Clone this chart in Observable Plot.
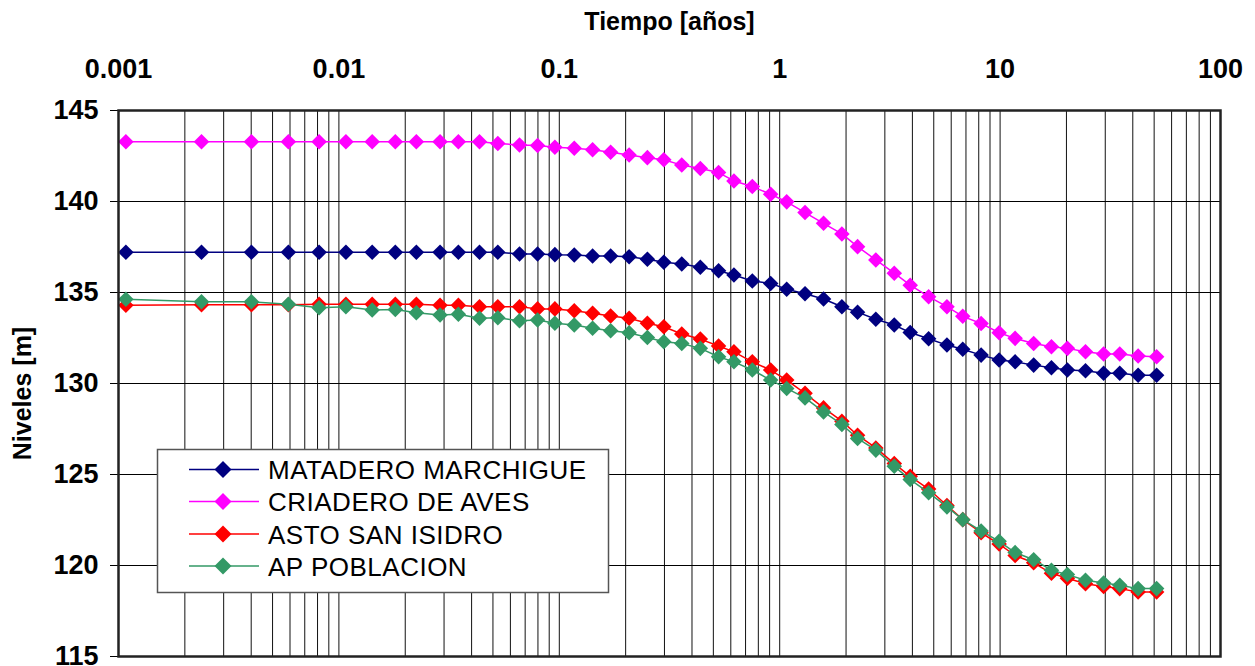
<!DOCTYPE html>
<html>
<head>
<meta charset="utf-8">
<script src="https://cdn.jsdelivr.net/npm/d3@7"></script>
<script src="https://cdn.jsdelivr.net/npm/@observablehq/plot@0.6"></script>
<style>
  html, body { margin: 0; padding: 0; background: #fff; }
  #chart { width: 1255px; height: 666px; }
</style>
</head>
<body>
<div id="chart"></div>
<script>
// Time (years)
const time = [0.00108, 0.00238, 0.00401, 0.0059, 0.00813, 0.01076, 0.01416, 0.01803, 0.02246, 0.02877,
  0.03484, 0.04345, 0.0526, 0.066, 0.0797, 0.0955, 0.1169, 0.1416, 0.171, 0.2074,
  0.251, 0.298, 0.3595, 0.4363, 0.528, 0.62, 0.751, 0.91, 1.076, 1.303,
  1.581, 1.915, 2.256, 2.73, 3.31, 3.91, 4.74, 5.74, 6.77, 8.2,
  9.9, 11.7, 14.2, 17.1, 20.2, 24.4, 29.5, 34.9, 42.3, 51.3];

const matadero = [137.21, 137.21, 137.21, 137.21, 137.21, 137.21, 137.21, 137.21, 137.21, 137.21,
  137.21, 137.21, 137.21, 137.12, 137.12, 137.08, 137.06, 137.0, 137.0, 136.97,
  136.83, 136.66, 136.57, 136.39, 136.2, 135.96, 135.63, 135.5, 135.18, 134.93,
  134.64, 134.22, 133.92, 133.53, 133.21, 132.8, 132.46, 132.11, 131.88, 131.56,
  131.29, 131.19, 131.01, 130.86, 130.74, 130.7, 130.56, 130.56, 130.45, 130.45];

const criadero = [143.28, 143.28, 143.28, 143.28, 143.28, 143.28, 143.28, 143.28, 143.28, 143.28,
  143.28, 143.28, 143.19, 143.1, 143.08, 142.98, 142.93, 142.84, 142.71, 142.56,
  142.41, 142.29, 142.0, 141.81, 141.59, 141.13, 140.82, 140.4, 139.98, 139.39,
  138.8, 138.22, 137.52, 136.79, 136.06, 135.4, 134.77, 134.22, 133.69, 133.3,
  132.79, 132.48, 132.2, 132.02, 131.93, 131.74, 131.62, 131.62, 131.51, 131.47];

const asto = [134.3, 134.33, 134.33, 134.33, 134.36, 134.36, 134.36, 134.36, 134.36, 134.3,
  134.3, 134.22, 134.22, 134.22, 134.1, 134.1, 134.0, 133.86, 133.71, 133.58,
  133.31, 133.12, 132.72, 132.44, 132.06, 131.74, 131.19, 130.74, 130.19, 129.46,
  128.66, 127.93, 127.16, 126.46, 125.6, 124.9, 124.2, 123.3, 122.52, 121.8,
  121.18, 120.55, 120.15, 119.57, 119.3, 119.0, 118.85, 118.73, 118.55, 118.55];

const apPoblacion = [134.63, 134.49, 134.49, 134.35, 134.16, 134.22, 134.04, 134.07, 133.89, 133.76,
  133.8, 133.58, 133.61, 133.45, 133.49, 133.31, 133.21, 133.03, 132.9, 132.79,
  132.53, 132.29, 132.2, 131.93, 131.47, 131.19, 130.74, 130.19, 129.73, 129.21,
  128.44, 127.75, 126.98, 126.34, 125.45, 124.72, 124.0, 123.22, 122.52, 121.9,
  121.33, 120.71, 120.32, 119.74, 119.5, 119.19, 119.04, 118.91, 118.73, 118.73];

const seriesNames = ["MATADERO MARCHIGUE", "CRIADERO DE AVES", "ASTO SAN ISIDRO", "AP POBLACION"];
const seriesValues = [matadero, criadero, asto, apPoblacion];
const seriesColors = ["#000080", "#FF00FF", "#FF0000", "#339966"];

const xTicks = [0.001, 0.01, 0.1, 1, 10, 100];
const xTickLabels = ["0.001", "0.01", "0.1", "1", "10", "100"];
const yTicks = [115, 120, 125, 130, 135, 140, 145];
const xTitle = "Tiempo [años]";
const yTitle = "Niveles [m]";

// log grid lines (1..9 in every decade)
const gridX = [];
for (let d = 0; d < xTicks.length - 1; d++) for (let k = 1; k <= 9; k++) gridX.push(xTicks[d] * k);
gridX.push(xTicks[xTicks.length - 1]);

const FONT = "'Liberation Sans', Arial, Helvetica, sans-serif";

const seriesMarks = [];
seriesValues.forEach((vals, i) => {
  const data = time.map((t, j) => ({t, v: vals[j]}));
  seriesMarks.push(Plot.line(data, {x: "t", y: "v", stroke: seriesColors[i], strokeWidth: 1.5}));
  seriesMarks.push(Plot.dot(data, {x: "t", y: "v", symbol: "diamond2", r: 7, fill: seriesColors[i], stroke: "none"}));
});

const chart = Plot.plot({
  width: 1255,
  height: 666,
  marginLeft: 118,
  marginRight: 35,
  marginTop: 110,
  marginBottom: 10,
  style: {fontFamily: FONT, fontSize: "27px", fontWeight: "bold", color: "#000", background: "#fff", overflow: "visible"},
  x: {type: "log", domain: [0.001, 100], axis: "top", ticks: xTicks,
      tickFormat: d => xTickLabels[xTicks.indexOf(d)] ?? "", tickSize: 0, tickPadding: 33, label: null},
  y: {domain: [115, 145], ticks: yTicks, tickSize: 8, tickPadding: 12, label: null},
  marks: [
    Plot.ruleX(gridX, {stroke: "#111", strokeWidth: 1}),
    Plot.ruleY(yTicks, {stroke: "#000", strokeWidth: 1}),
    ...seriesMarks,
    Plot.frame({stroke: "#222", strokeWidth: 2.5}),
    Plot.text([xTitle], {frameAnchor: "top", dy: -89, lineAnchor: "middle", textAnchor: "middle", fontSize: 25, fontWeight: "bold", fill: "#000"}),
    Plot.text([yTitle], {frameAnchor: "left", dx: -96, dy: 10, rotate: -90, lineAnchor: "middle", textAnchor: "middle", fontSize: 25, fontWeight: "bold", fill: "#000"})
  ]
});

document.getElementById("chart").appendChild(chart);

// Legend box drawn into the same SVG
const svg = d3.select(chart);
const lg = svg.append("g").attr("font-family", FONT).attr("text-anchor", "start");
lg.append("rect").attr("x", 157.5).attr("y", 449.5).attr("width", 451).attr("height", 143)
  .attr("fill", "#fff").attr("stroke", "#555").attr("stroke-width", 1.5);
const rowY = [469.5, 501.5, 534, 566];
seriesNames.forEach((name, i) => {
  const y = rowY[i];
  lg.append("line").attr("x1", 189).attr("x2", 259).attr("y1", y).attr("y2", y)
    .attr("stroke", seriesColors[i]).attr("stroke-width", 1.5);
  lg.append("path").attr("d", `M223,${y - 8.5}L231.5,${y}L223,${y + 8.5}L214.5,${y}Z`).attr("fill", seriesColors[i]);
  lg.append("text").attr("x", 268).attr("y", y + 9.5).attr("font-size", 26).attr("font-weight", "normal")
    .attr("letter-spacing", 0.5).attr("text-anchor", "start").attr("fill", "#000").text(name);
});
</script>
</body>
</html>
